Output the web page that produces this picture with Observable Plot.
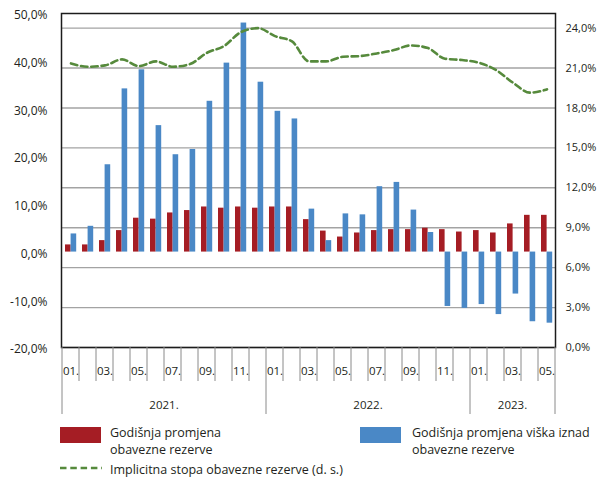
<!DOCTYPE html>
<html><head><meta charset="utf-8">
<script src="https://cdn.jsdelivr.net/npm/d3@7"></script>
<script src="https://cdn.jsdelivr.net/npm/@observablehq/plot@0.6"></script>
<style>
body{margin:0;background:#fff;font-family:"Open Sans",sans-serif;color:#231f20}
#wrap{position:relative;width:597px;height:477px;overflow:hidden}
#chart{position:absolute;left:0;top:0}
.sw{position:absolute;width:41px;height:16px}
.lt{position:absolute;font-size:12.5px;line-height:16.5px;white-space:nowrap;color:#231f20}
</style></head><body>
<div id="wrap">
<div id="chart"></div>
<div class="sw" style="left:60px;top:427px;background:#a51d24"></div>
<div class="lt" style="left:110px;top:425px">Godišnja promjena<br>obavezne rezerve</div>
<div class="sw" style="left:360px;top:427px;background:#4a88c6"></div>
<div class="lt" style="left:412px;top:425px">Godišnja promjena viška iznad<br>obavezne rezerve</div>
<svg style="position:absolute;left:60px;top:464px" width="42" height="8"><line x1="0" x2="42" y1="4" y2="4" stroke="#568a3c" stroke-width="2.6" stroke-dasharray="6.5,3.8"/></svg>
<div class="lt" style="left:110px;top:462px">Implicitna stopa obavezne rezerve (d. s.)</div>
</div>
<script>
const months = ["2021-01","2021-02","2021-03","2021-04","2021-05","2021-06","2021-07","2021-08","2021-09","2021-10","2021-11","2021-12",
  "2022-01","2022-02","2022-03","2022-04","2022-05","2022-06","2022-07","2022-08","2022-09","2022-10","2022-11","2022-12",
  "2023-01","2023-02","2023-03","2023-04","2023-05"];
const monthLabels = ["01.","","03.","","05.","","07.","","09.","","11.","",
  "01.","","03.","","05.","","07.","","09.","","11.","",
  "01.","","03.","","05."];
const years = ["2021","2022","2023"];
const yearLabels = ["2021.","2022.","2023."];
// Godišnja promjena obavezne rezerve (%)
const reserveChange = [1.5,1.5,2.4,4.5,7.1,6.9,8.2,8.7,9.45,9.2,9.45,9.2,
  9.45,9.45,6.8,4.4,3.15,4.0,4.5,4.7,4.7,5.0,4.7,4.2,
  4.5,4.0,5.9,7.7,7.7];
// Godišnja promjena viška iznad obavezne rezerve (%)
const excessChange = [3.8,5.4,18.3,34.2,38.2,26.5,20.4,21.5,31.6,39.6,48.0,35.6,
  29.5,27.9,9.0,2.4,8.0,7.8,13.7,14.6,8.8,4.1,-11.4,-11.8,
  -11.0,-13.1,-8.8,-14.6,-14.9];
// Implicitna stopa obavezne rezerve (desna skala, %)
const impliedRate = [21.35,21.1,21.2,21.65,21.15,21.5,21.1,21.3,22.15,22.65,23.7,24.0,
  23.4,23.0,21.5,21.5,21.85,21.9,22.1,22.35,22.7,22.5,21.7,21.6,
  21.4,20.85,19.9,19.15,19.4];
const leftTicks = [-20,-10,0,10,20,30,40,50];
const rightTicks = [0,3,6,9,12,15,18,21,24];
const LEFT_MIN = -20, LEFT_MAX = 50, RIGHT_MAX = 25.1;

const toLeft = r => LEFT_MIN + r * (LEFT_MAX - LEFT_MIN) / RIGHT_MAX;
const toRight = v => (v - LEFT_MIN) * RIGHT_MAX / (LEFT_MAX - LEFT_MIN);
const fmt = v => v.toFixed(1).replace(".", ",") + "%";
const data = months.map((m, i) => ({month: m, red: reserveChange[i], blue: excessChange[i], rate: impliedRate[i]}));

const chart = Plot.plot({
  width: 597, height: 420,
  marginTop: 13, marginLeft: 61, marginRight: 42, marginBottom: 73,
  style: {fontFamily: "Open Sans", fontSize: "11px", color: "#231f20", background: "transparent"},
  x: {type: "band", domain: months, padding: 0},
  y: {domain: [LEFT_MIN, LEFT_MAX]},
  marks: [
    Plot.gridY(rightTicks.map(toLeft), {stroke: "#a3a3a3", strokeOpacity: 1, strokeWidth: 1.4}),
    Plot.barY(data, {x: "month", y: "red", fill: "#a51d24", insetLeft: 3, insetRight: 8.4}),
    Plot.barY(data, {x: "month", y: "blue", fill: "#4a88c6", insetLeft: 8.6, insetRight: 2.8}),
    Plot.lineY(data, {x: "month", y: d => toLeft(d.rate), stroke: "#568a3c", strokeWidth: 2.6, strokeDasharray: "6.5,3.8", curve: "monotone-x"}),
    Plot.frame({stroke: "#1c1c1c", strokeWidth: 1.5}),
    Plot.axisY(leftTicks, {anchor: "left", tickSize: 0, tickPadding: 14, tickFormat: fmt, fontSize: 12, dy: 2, label: null}),
    Plot.axisY(rightTicks.map(toLeft), {anchor: "right", tickSize: 0, tickPadding: 10, tickFormat: v => fmt(Math.round(toRight(v))), fontSize: 11, label: null}),
    Plot.axisX(months.filter((m, i) => monthLabels[i] !== ""), {tickSize: 0, tickPadding: 19, tickFormat: m => monthLabels[months.indexOf(m)], fontSize: 11.5, label: null})
  ]
});
document.getElementById("chart").appendChild(chart);

// hierarchical month / year ticks below the plot, placed with Plot's own scales
const sx = chart.scale("x"), sy = chart.scale("y");
const bw = sx.bandwidth;
const y0 = sy.apply(LEFT_MIN);
const edge = i => i < months.length ? sx.apply(months[i]) : sx.apply(months[months.length - 1]) + bw;
const svg = d3.select(chart);
const g = svg.append("g").attr("stroke", "#8a8a8a").attr("stroke-width", 1);
for (let i = 0; i <= months.length; i++) {
  const isYear = i === months.length || months[i].endsWith("-01");
  g.append("line").attr("x1", edge(i)).attr("x2", edge(i)).attr("y1", y0).attr("y2", y0 + (isYear ? 67 : 34));
}
const tg = svg.append("g").attr("font-family", "Open Sans").attr("font-size", 11.5).attr("fill", "#231f20").attr("text-anchor", "middle");
years.forEach((yr, k) => {
  const idx = months.map((m, i) => m.startsWith(yr) ? i : -1).filter(i => i >= 0);
  const x = (edge(idx[0]) + edge(idx[idx.length - 1] + 1)) / 2;
  tg.append("text").attr("x", x).attr("y", y0 + 58).attr("dy", "0.32em").text(yearLabels[k]);
});
</script>
</body></html>
